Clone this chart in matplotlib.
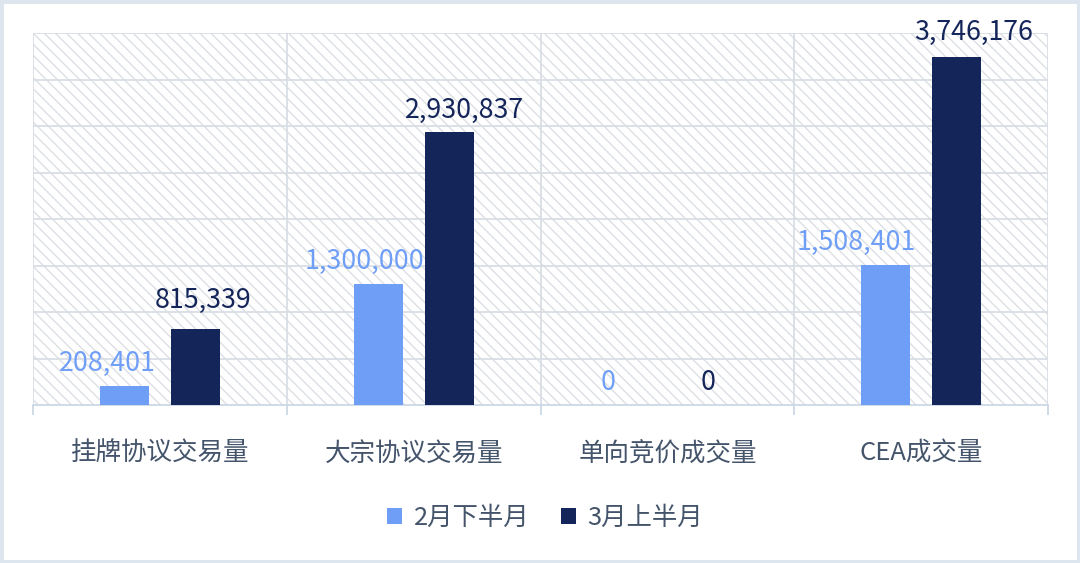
import matplotlib.pyplot as plt
import matplotlib.patches as mpatches
import numpy as np

plt.rcParams['font.family'] = ['Noto Sans CJK SC', 'DejaVu Sans']

# Data
categories = ['挂牌协议交易量', '大宗协议交易量', '单向竞价成交量', 'CEA成交量']
series_names = ['2月下半月', '3月上半月']
feb_second_half = [208401, 1300000, 0, 1508401]
mar_first_half = [815339, 2930837, 0, 3746176]

# label nudges (points), labels were hand placed in the original
feb_dx = [-12, -9.5, -17, -21]
feb_dy = [6.4, 6.4, 6.4, 6.4]
mar_dx = [5.5, 11, 3.5, 12]
mar_dy = [10.7, 6.4, 6.4, 7.9]

light_blue = '#6f9ef7'
navy = '#14255a'
text_col = '#44546a'
grid_col = '#d9dee5'

fig = plt.figure(figsize=(10.8, 5.63), dpi=100)
fig.patch.set_facecolor('white')
fig.patches.append(mpatches.Rectangle((0, 0), 1, 1, transform=fig.transFigure,
                                      fill=False, edgecolor='#dde5ee', linewidth=5))

ax = fig.add_axes([33 / 1080, 1 - 405 / 563, (1048 - 33) / 1080, (405 - 33) / 563])

# hatched background
bg = mpatches.Rectangle((0, 0), 1, 1, transform=ax.transAxes, facecolor='white',
                        edgecolor='#dcdfe4', hatch='\\\\\\', linewidth=0, zorder=0)
ax.add_patch(bg)
ax.set_facecolor('none')

x = np.arange(len(categories))
w = 0.193
off = 0.14
ax.bar(x - off, feb_second_half, w, color=light_blue, zorder=3, label=series_names[0])
ax.bar(x + off, mar_first_half, w, color=navy, zorder=3, label=series_names[1])

for xi, v, dx, dy in zip(x, feb_second_half, feb_dx, feb_dy):
    ax.annotate(f'{v:,}', (xi - off, v), xytext=(dx, dy), textcoords='offset points',
                ha='center', va='bottom', fontsize=19.3, fontweight='light',
                color=light_blue, zorder=4)
for xi, v, dx, dy in zip(x, mar_first_half, mar_dx, mar_dy):
    ax.annotate(f'{v:,}', (xi + off, v), xytext=(dx, dy), textcoords='offset points',
                ha='center', va='bottom', fontsize=19.3, color=navy, zorder=4)

ax.set_xlim(-0.5, len(categories) - 0.5)
ax.set_ylim(0, 4000000)

# horizontal grid
for yv in np.arange(500000, 4000001, 500000):
    ax.axhline(yv, color=grid_col, linewidth=1.3, zorder=1)
# category boundaries
for b in np.arange(-0.5, len(categories), 1):
    ax.axvline(b, color=grid_col, linewidth=1.3, zorder=1)

for s in ['left', 'right', 'top']:
    ax.spines[s].set_visible(False)
ax.spines['bottom'].set_color('#cdd8e6')
ax.spines['bottom'].set_linewidth(1.3)

ax.set_yticks([])
ax.set_xticks(np.arange(-0.5, len(categories), 1))
ax.set_xticklabels([])
ax.tick_params(axis='x', length=7, color='#cdd8e6', width=1.3)
ax.set_xticks(x, minor=True)
ax.set_xticklabels(categories, minor=True, fontsize=18.4, color=text_col)
ax.tick_params(axis='x', which='minor', length=0, pad=26)

leg = fig.legend(loc='center', bbox_to_anchor=(545 / 1080, 1 - 518 / 563), ncol=2,
                 frameon=False, fontsize=18.3, handlelength=0.6, handleheight=0.6,
                 handletextpad=0.45, columnspacing=1.25)
for t in leg.get_texts():
    t.set_color(text_col)

fig.savefig('out.png', dpi=100)
